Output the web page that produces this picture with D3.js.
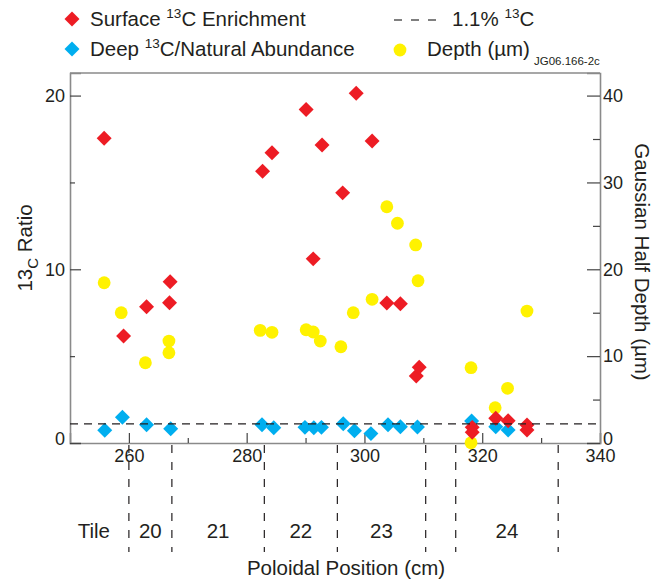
<!DOCTYPE html>
<html>
<head>
<meta charset="utf-8">
<script src="https://cdn.jsdelivr.net/npm/d3@7"></script>
<style>
    body { margin: 0; background: #fff; }
    text { font-family: "Liberation Sans", Arial, Helvetica, sans-serif; fill: #231f20; }
    .axis path.domain { stroke: #8a8a8a; stroke-width: 1.6; }
    .axis line { stroke: #444; stroke-width: 1.2; }
</style>
</head>
<body>
<div id="chart"></div>
<script>
// poloidal position (cm) and values
const surfacePos = [255.8, 259.1, 263.0, 266.9, 267.0, 282.7, 284.3, 290.1, 291.3, 292.8, 296.3, 298.6, 301.3, 303.8, 306.1, 308.8, 309.3, 318.3, 318.3, 322.3, 324.4, 327.6, 327.6];
const surfaceRatio = [17.54, 6.16, 7.84, 8.07, 9.28, 15.64, 16.71, 19.2, 10.6, 17.15, 14.4, 20.13, 17.38, 8.06, 8.02, 3.86, 4.36, 0.9, 0.62, 1.42, 1.28, 1.04, 0.75];

const deepPos = [255.9, 258.9, 263.0, 267.1, 282.6, 284.6, 289.9, 291.4, 292.7, 296.4, 298.3, 301.1, 304.0, 306.1, 309.0, 318.2, 322.3, 324.4];
const deepRatio = [0.73, 1.48, 1.05, 0.82, 1.05, 0.88, 0.9, 0.88, 0.9, 1.11, 0.71, 0.54, 1.05, 0.94, 0.92, 1.27, 0.94, 0.75];

const depthPos = [255.8, 258.7, 262.8, 266.8, 266.8, 282.3, 284.3, 290.1, 291.3, 292.5, 296.0, 298.1, 301.3, 303.8, 305.6, 308.7, 309.1, 318.1, 318.1, 322.2, 324.3, 327.6];
const depthUm = [18.45, 15.0, 9.24, 11.74, 10.39, 12.97, 12.74, 13.04, 12.78, 11.74, 11.08, 15.0, 16.54, 27.2, 25.3, 22.8, 18.68, 8.67, 0.03, 4.06, 6.3, 15.19];

const naturalAbundance = 1.1;

const tileNames = ["20", "21", "22", "23", "24"];
const tileStart = [260, 267.3, 283.0, 295.4, 315.5];
const tileEnd = [267.3, 283.0, 295.4, 310.4, 332.9];

const xTicks = [260, 280, 300, 320, 340];
const xMinorTicks = [270, 290, 310, 330];
const yTicks = [0, 10, 20];
const yMinorTicks = [5, 15];
const y2Ticks = [0, 10, 20, 30, 40];
const y2MinorTicks = [5, 15, 25, 35];

const colors = { surface: "#ed1c24", deep: "#00aeef", depth: "#fff200" };

const width = 669, height = 583;
const margin = { top: 73, right: 69, bottom: 140, left: 70 };
const labelSize = 20.5, tickSize = 18;

const svg = d3.select("#chart").append("svg")
    .attr("width", width)
    .attr("height", height);

const x = d3.scaleLinear().domain([250, 340]).range([margin.left, width - margin.right]);
const y = d3.scaleLinear().domain([0, 21.3]).range([height - margin.bottom, margin.top]);
const y2 = d3.scaleLinear().domain([0, 42.6]).range([height - margin.bottom, margin.top]);

const bottom = height - margin.bottom;
const diamond = d3.symbol().type(d3.symbolSquare).size(112);

// frame top
svg.append("line")
    .attr("x1", x(250)).attr("x2", x(340))
    .attr("y1", margin.top).attr("y2", margin.top)
    .attr("stroke", "#8a8a8a").attr("stroke-width", 1.6);

// axes, ticks pointing inward
function minor(axis, g) {
    g.append("g").attr("class", "axis").call(axis).call(s => s.select(".domain").remove());
}

svg.append("g").attr("class", "axis")
    .attr("transform", `translate(0,${bottom})`)
    .call(d3.axisBottom(x).tickValues(xTicks).tickSize(-10).tickPadding(6))
    .selectAll("text").attr("font-size", tickSize);
minor(d3.axisBottom(x).tickValues(xMinorTicks).tickSize(-5).tickFormat(""),
    svg.append("g").attr("transform", `translate(0,${bottom})`));

svg.append("g").attr("class", "axis y-left")
    .attr("transform", `translate(${margin.left},0)`)
    .call(d3.axisLeft(y).tickValues(yTicks).tickSize(-11).tickPadding(5))
    .selectAll("text").attr("font-size", tickSize);
minor(d3.axisLeft(y).tickValues(yMinorTicks).tickSize(-5).tickFormat(""),
    svg.append("g").attr("transform", `translate(${margin.left},0)`));

svg.append("g").attr("class", "axis y-right")
    .attr("transform", `translate(${width - margin.right},0)`)
    .call(d3.axisRight(y2).tickValues(y2Ticks).tickSize(-13).tickPadding(3))
    .selectAll("text").attr("font-size", tickSize);
minor(d3.axisRight(y2).tickValues(y2MinorTicks).tickSize(-7).tickFormat(""),
    svg.append("g").attr("transform", `translate(${width - margin.right},0)`));

svg.selectAll(".axis .tick text").attr("fill", "#231f20");
// zero labels sit a little above the bottom axis
svg.selectAll(".y-left .tick text, .y-right .tick text")
    .filter((d) => d === 0)
    .attr("dy", "0.1em");

// points: depth, deep, surface
svg.append("g").selectAll("circle")
    .data(depthPos)
    .enter().append("circle")
    .attr("cx", (d) => x(d))
    .attr("cy", (d, i) => y2(depthUm[i]))
    .attr("r", 6.4)
    .attr("fill", colors.depth);

svg.append("g").selectAll("path")
    .data(deepPos)
    .enter().append("path")
    .attr("d", diamond)
    .attr("transform", (d, i) => `translate(${x(d)},${y(deepRatio[i])}) rotate(45)`)
    .attr("fill", colors.deep);

svg.append("g").selectAll("path")
    .data(surfacePos)
    .enter().append("path")
    .attr("d", diamond)
    .attr("transform", (d, i) => `translate(${x(d)},${y(surfaceRatio[i])}) rotate(45)`)
    .attr("fill", colors.surface);

// 1.1% natural abundance line
svg.append("line")
    .attr("x1", x(250)).attr("x2", x(340))
    .attr("y1", y(naturalAbundance)).attr("y2", y(naturalAbundance))
    .attr("stroke", "#231f20").attr("stroke-width", 1.4)
    .attr("stroke-dasharray", "8,6");

// tile boundaries below the axis
const bounds = Array.from(new Set(tileStart.concat(tileEnd)));
svg.append("g").selectAll("line")
    .data(bounds)
    .enter().append("line")
    .attr("x1", (d) => x(d)).attr("x2", (d) => x(d))
    .attr("y1", bottom + 2).attr("y2", 552)
    .attr("stroke", "#231f20").attr("stroke-width", 1.2)
    .attr("stroke-dasharray", "8,9");

svg.append("g").selectAll("text")
    .data(tileNames)
    .enter().append("text")
    .attr("x", (d, i) => x((tileStart[i] + tileEnd[i]) / 2))
    .attr("y", 538)
    .attr("text-anchor", "middle")
    .attr("font-size", labelSize)
    .text((d) => d);

svg.append("text")
    .attr("x", 110).attr("y", 538)
    .attr("text-anchor", "end")
    .attr("font-size", labelSize)
    .text("Tile");

// axis titles
svg.append("text")
    .attr("x", 346).attr("y", 575)
    .attr("text-anchor", "middle")
    .attr("font-size", labelSize)
    .text("Poloidal Position (cm)");

const yTitle = svg.append("text")
    .attr("transform", "translate(32,248) rotate(-90)")
    .attr("text-anchor", "middle")
    .attr("font-size", labelSize);
yTitle.append("tspan").text("13");
yTitle.append("tspan").attr("dy", 6).attr("font-size", 15).text("C");
yTitle.append("tspan").attr("dy", -6).text(" Ratio");

svg.append("text")
    .attr("transform", "translate(635,262) rotate(90)")
    .attr("text-anchor", "middle")
    .attr("font-size", labelSize)
    .text("Gaussian Half Depth (\u00b5m)");

// legend
const legend = svg.append("g");

legend.append("path").attr("d", diamond)
    .attr("transform", "translate(72,19) rotate(45)").attr("fill", colors.surface);
legend.append("path").attr("d", diamond)
    .attr("transform", "translate(72,49) rotate(45)").attr("fill", colors.deep);
legend.append("circle").attr("cx", 400).attr("cy", 50).attr("r", 6.4).attr("fill", colors.depth);
legend.append("line")
    .attr("x1", 394).attr("x2", 437).attr("y1", 20).attr("y2", 20)
    .attr("stroke", "#555").attr("stroke-width", 1.4).attr("stroke-dasharray", "8,9");

function supText(tx, ty, before, after) {
    const t = legend.append("text").attr("x", tx).attr("y", ty).attr("font-size", labelSize);
    t.append("tspan").text(before);
    t.append("tspan").attr("dy", -8).attr("font-size", 13.5).text("13");
    t.append("tspan").attr("dy", 8).text(after);
}
supText(90, 26, "Surface ", "C Enrichment");
supText(452, 26, "1.1% ", "C");
supText(90, 56, "Deep ", "C/Natural Abundance");

legend.append("text").attr("x", 427).attr("y", 56).attr("font-size", labelSize).text("Depth (\u00b5m)");
legend.append("text").attr("x", 534).attr("y", 65).attr("font-size", 11.5).text("JG06.166-2c");
</script>
</body>
</html>
